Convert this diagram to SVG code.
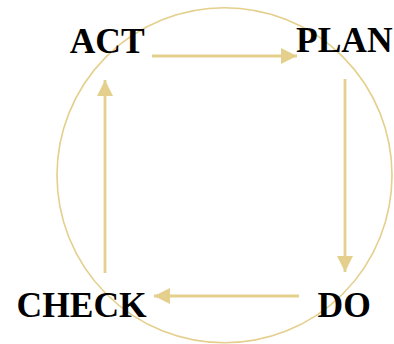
<svg xmlns="http://www.w3.org/2000/svg" width="394" height="344" viewBox="0 0 394 344">
  <style>
    .lbl { font-family: "Liberation Serif", "Times New Roman", serif; font-weight: bold; font-size: 35.5px; fill: #000; }
    .ring { fill: none; stroke: #e4cf8c; stroke-width: 1.6; }
    .arr { fill: none; stroke: #e4cf8c; stroke-width: 2.8; marker-end: url(#head); }
  </style>
  <defs>
    <marker id="head" markerUnits="userSpaceOnUse" markerWidth="16" markerHeight="16" viewBox="0 0 16 16" refX="16" refY="8" orient="auto">
      <path d="M0,0 L16,8 L0,16 z" fill="#e4cf8c"/>
    </marker>
  </defs>
  <circle class="ring" cx="224.5" cy="175.3" r="167.5"/>
  <g id="connectors">
    <line class="arr" x1="152" y1="56" x2="297" y2="56"/>
    <line class="arr" x1="345" y1="79" x2="345" y2="272"/>
    <line class="arr" x1="299" y1="296" x2="154" y2="296"/>
    <line class="arr" x1="105" y1="273" x2="105" y2="80"/>
  </g>
  <g id="act"><text class="lbl" x="69.7" y="52.5">ACT</text></g>
  <g id="plan"><text class="lbl" x="296" y="52">PLAN</text></g>
  <g id="do"><text class="lbl" x="317.5" y="316.5">DO</text></g>
  <g id="check"><text class="lbl" x="16.5" y="316.5">CHECK</text></g>
</svg>
